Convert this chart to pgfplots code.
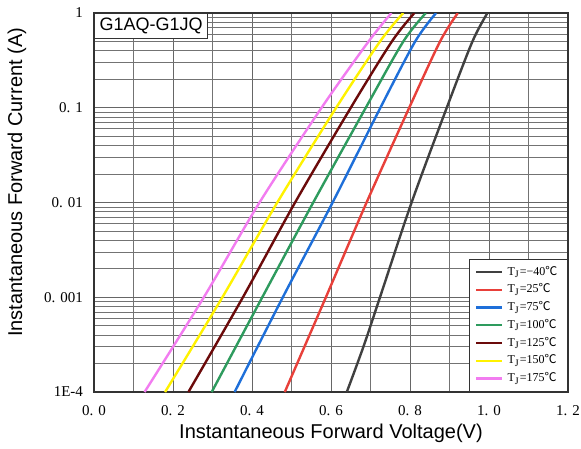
\documentclass[border=0pt]{standalone}
\usepackage{pgfplots}
\pgfplotsset{compat=1.18}
\usepackage{fontspec}
\setmainfont{Liberation Serif}
\setsansfont{Liberation Sans}
\newfontfamily\cjk{Noto Sans CJK SC}

\definecolor{cM40}{HTML}{404040}
\definecolor{c25}{HTML}{E8403A}
\definecolor{c75}{HTML}{1E6FD9}
\definecolor{c100}{HTML}{2E9B5E}
\definecolor{c125}{HTML}{6B0A0A}
\definecolor{c150}{HTML}{FFF200}
\definecolor{c175}{HTML}{F27CF0}

\begin{document}
\begin{tikzpicture}
	\begin{axis}[
		scale only axis,
		width=237pt,
		height=189.5pt,
		xmin=0, xmax=1.2,
		ymode=log, ymin=1e-4, ymax=1,
		xtick={0,0.2,0.4,0.6,0.8,1.0,1.2},
		xticklabels={0. 0,0. 2,0. 4,0. 6,0. 8,1. 0,1. 2},
		minor x tick num=1,
		ytick={1e-4,1e-3,1e-2,1e-1,1},
		yticklabels={1E-4,0. 001,0. 01,0. 1,1},
		grid=both,
		major grid style={black!60, line width=0.4pt},
		minor grid style={black!55, line width=0.35pt},
		major tick length=0pt,
		minor tick length=0pt,
		axis line style={black!80, line width=0.9pt},
		tick label style={font=\fontsize{7.5}{9}\selectfont},
		xticklabel style={yshift=-3pt},
		yticklabel style={xshift=-2pt},
		xlabel={Instantaneous Forward Voltage(V)},
		ylabel={Instantaneous Forward Current (A)},
		every axis x label/.style={at={(axis description cs:0.5,-0.1214)}, anchor=base,
			font=\sffamily\fontsize{10}{12}\selectfont},
		every axis y label/.style={at={(axis description cs:-0.1624,0.553)}, anchor=center,
			rotate=90, font=\sffamily\fontsize{10}{12}\selectfont},
		legend style={at={(1,0)}, anchor=south east, draw=black!80, line width=0.6pt,
			font=\fontsize{6}{7}\selectfont, nodes={inner ysep=1.4pt}},
		legend cell align=left,
		legend image code/.code={\draw[#1] (0pt,0pt) -- (13pt,0pt);},
	]
	% T_J = -40 C
	\addplot[cM40, line width=1.2pt, smooth] coordinates {
		(0.640,1e-4) (0.682,3e-4) (0.724,1e-3) (0.804,0.01)
		(0.893,0.1) (0.958,0.5) (0.996,1)
	};
	% 25 C
	\addplot[c25, line width=1.2pt, smooth] coordinates {
		(0.483,1e-4) (0.587,1e-3) (0.690,0.01)
		(0.798,0.1) (0.876,0.5) (0.921,1)
	};
	% 75 C
	\addplot[c75, line width=1.2pt, smooth] coordinates {
		(0.356,1e-4) (0.478,1e-3) (0.604,0.01)
		(0.725,0.1) (0.813,0.5) (0.866,1)
	};
	% 100 C
	\addplot[c100, line width=1.2pt, smooth] coordinates {
		(0.298,1e-4) (0.426,1e-3) (0.555,0.01)
		(0.688,0.1) (0.783,0.5) (0.840,1)
	};
	% 125 C
	\addplot[c125, line width=1.2pt, smooth] coordinates {
		(0.239,1e-4) (0.377,1e-3) (0.509,0.01)
		(0.650,0.1) (0.754,0.5) (0.811,1)
	};
	% 150 C
	\addplot[c150, line width=1.2pt, smooth] coordinates {
		(0.180,1e-4) (0.325,1e-3) (0.464,0.01)
		(0.613,0.1) (0.724,0.5) (0.783,1)
	};
	% 175 C
	\addplot[c175, line width=1.2pt, smooth] coordinates {
		(0.128,1e-4) (0.278,1e-3) (0.419,0.01)
		(0.576,0.1) (0.695,0.5) (0.753,1)
	};
	\legend{T\textsubscript{J}=−40\cjk{℃}, T\textsubscript{J}=25\cjk{℃},
		T\textsubscript{J}=75\cjk{℃}, T\textsubscript{J}=100\cjk{℃},
		T\textsubscript{J}=125\cjk{℃}, T\textsubscript{J}=150\cjk{℃},
		T\textsubscript{J}=175\cjk{℃}}
	\node[draw=black!80, line width=0.6pt, fill=white, anchor=north west,
		font=\sffamily\fontsize{9}{10}\selectfont, inner xsep=2.5pt, inner ysep=2.2pt]
		at (rel axis cs:0,1) {G1AQ-G1JQ};
	\end{axis}
	\pgfresetboundingbox
	\path ([shift={(-47pt,-28pt)}]current axis.south west)
		rectangle ([shift={(6.5pt,6.5pt)}]current axis.north east);
\end{tikzpicture}
\end{document}
